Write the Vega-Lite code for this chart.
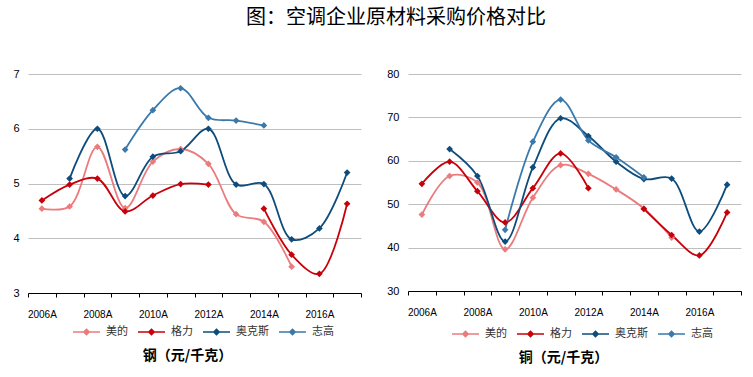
{
  "$schema": "https://vega.github.io/schema/vega-lite/v6.json",
  "background": "white",
  "padding": {"top": 8, "left": 12, "right": 4, "bottom": 0},
  "title": {"text": "图：空调企业原材料采购价格对比", "fontSize": 20, "fontWeight": "normal", "font": "Noto Sans CJK SC", "color": "#000000", "anchor": "middle", "offset": 40, "dx": 12},
  "config": {
    "font": "Liberation Sans, Noto Sans CJK SC",
    "view": {"stroke": null},
    "axisX": {"title": null, "grid": false, "domainColor": "#000000", "domainWidth": 1, "tickColor": "#000000", "tickSize": 4, "labelFontSize": 10, "labelColor": "#000000", "labelPadding": 12, "labelFlush": false, "labelOverlap": false},
    "axisY": {"title": null, "domain": false, "ticks": false, "grid": true, "gridColor": "#BFBFBF", "gridWidth": 1, "labelFontSize": 11, "labelColor": "#000000", "labelPadding": 9},
    "legend": {"orient": "none", "direction": "horizontal", "columns": 4, "columnPadding": 7, "labelFontSize": 11, "labelColor": "#333333", "labelFont": "Noto Sans CJK SC", "title": null, "symbolType": "M-1,0L1,0M0,-0.2L0.2,0L0,0.2L-0.2,0Z", "symbolSize": 729, "symbolStrokeWidth": 1.5, "labelOffset": 5}
  },
  "datasets": {
    "steel": [
      {"company": "美的", "year": 2006, "value": 4.54, "seg": "a"},
      {"company": "美的", "year": 2007, "value": 4.58, "seg": "a"},
      {"company": "美的", "year": 2008, "value": 5.67, "seg": "a"},
      {"company": "美的", "year": 2009, "value": 4.55, "seg": "a"},
      {"company": "美的", "year": 2010, "value": 5.40, "seg": "a"},
      {"company": "美的", "year": 2011, "value": 5.63, "seg": "a"},
      {"company": "美的", "year": 2012, "value": 5.36, "seg": "a"},
      {"company": "美的", "year": 2013, "value": 4.44, "seg": "a"},
      {"company": "美的", "year": 2014, "value": 4.30, "seg": "a"},
      {"company": "美的", "year": 2015, "value": 3.48, "seg": "a"},
      {"company": "格力", "year": 2006, "value": 4.69, "seg": "b1"},
      {"company": "格力", "year": 2007, "value": 4.98, "seg": "b1"},
      {"company": "格力", "year": 2008, "value": 5.09, "seg": "b1"},
      {"company": "格力", "year": 2009, "value": 4.49, "seg": "b1"},
      {"company": "格力", "year": 2010, "value": 4.78, "seg": "b1"},
      {"company": "格力", "year": 2011, "value": 4.99, "seg": "b1"},
      {"company": "格力", "year": 2012, "value": 4.98, "seg": "b1"},
      {"company": "格力", "year": 2014, "value": 4.54, "seg": "b2"},
      {"company": "格力", "year": 2015, "value": 3.70, "seg": "b2"},
      {"company": "格力", "year": 2016, "value": 3.35, "seg": "b2"},
      {"company": "格力", "year": 2017, "value": 4.63, "seg": "b2"},
      {"company": "奥克斯", "year": 2007, "value": 5.09, "seg": "c"},
      {"company": "奥克斯", "year": 2008, "value": 6.00, "seg": "c"},
      {"company": "奥克斯", "year": 2009, "value": 4.77, "seg": "c"},
      {"company": "奥克斯", "year": 2010, "value": 5.49, "seg": "c"},
      {"company": "奥克斯", "year": 2011, "value": 5.59, "seg": "c"},
      {"company": "奥克斯", "year": 2012, "value": 6.00, "seg": "c"},
      {"company": "奥克斯", "year": 2013, "value": 4.98, "seg": "c"},
      {"company": "奥克斯", "year": 2014, "value": 4.99, "seg": "c"},
      {"company": "奥克斯", "year": 2015, "value": 3.98, "seg": "c"},
      {"company": "奥克斯", "year": 2016, "value": 4.18, "seg": "c"},
      {"company": "奥克斯", "year": 2017, "value": 5.20, "seg": "c"},
      {"company": "志高", "year": 2009, "value": 5.62, "seg": "d"},
      {"company": "志高", "year": 2010, "value": 6.34, "seg": "d"},
      {"company": "志高", "year": 2011, "value": 6.74, "seg": "d"},
      {"company": "志高", "year": 2012, "value": 6.20, "seg": "d"},
      {"company": "志高", "year": 2013, "value": 6.15, "seg": "d"},
      {"company": "志高", "year": 2014, "value": 6.06, "seg": "d"}
    ],
    "copper": [
      {"company": "美的", "year": 2006, "value": 47.6, "seg": "a"},
      {"company": "美的", "year": 2007, "value": 56.5, "seg": "a"},
      {"company": "美的", "year": 2008, "value": 55.0, "seg": "a"},
      {"company": "美的", "year": 2009, "value": 39.6, "seg": "a"},
      {"company": "美的", "year": 2010, "value": 51.5, "seg": "a"},
      {"company": "美的", "year": 2011, "value": 59.0, "seg": "a"},
      {"company": "美的", "year": 2012, "value": 57.0, "seg": "a"},
      {"company": "美的", "year": 2013, "value": 53.4, "seg": "a"},
      {"company": "美的", "year": 2014, "value": 49.0, "seg": "a"},
      {"company": "美的", "year": 2015, "value": 42.3, "seg": "a"},
      {"company": "格力", "year": 2006, "value": 54.7, "seg": "b1"},
      {"company": "格力", "year": 2007, "value": 59.8, "seg": "b1"},
      {"company": "格力", "year": 2008, "value": 53.0, "seg": "b1"},
      {"company": "格力", "year": 2009, "value": 45.8, "seg": "b1"},
      {"company": "格力", "year": 2010, "value": 53.7, "seg": "b1"},
      {"company": "格力", "year": 2011, "value": 61.7, "seg": "b1"},
      {"company": "格力", "year": 2012, "value": 53.7, "seg": "b1"},
      {"company": "格力", "year": 2014, "value": 48.9, "seg": "b2"},
      {"company": "格力", "year": 2015, "value": 42.9, "seg": "b2"},
      {"company": "格力", "year": 2016, "value": 38.2, "seg": "b2"},
      {"company": "格力", "year": 2017, "value": 48.1, "seg": "b2"},
      {"company": "奥克斯", "year": 2007, "value": 62.7, "seg": "c"},
      {"company": "奥克斯", "year": 2008, "value": 56.5, "seg": "c"},
      {"company": "奥克斯", "year": 2009, "value": 41.4, "seg": "c"},
      {"company": "奥克斯", "year": 2010, "value": 58.5, "seg": "c"},
      {"company": "奥克斯", "year": 2011, "value": 69.8, "seg": "c"},
      {"company": "奥克斯", "year": 2012, "value": 65.7, "seg": "c"},
      {"company": "奥克斯", "year": 2013, "value": 59.8, "seg": "c"},
      {"company": "奥克斯", "year": 2014, "value": 55.8, "seg": "c"},
      {"company": "奥克斯", "year": 2015, "value": 55.9, "seg": "c"},
      {"company": "奥克斯", "year": 2016, "value": 43.7, "seg": "c"},
      {"company": "奥克斯", "year": 2017, "value": 54.5, "seg": "c"},
      {"company": "志高", "year": 2009, "value": 44.1, "seg": "d"},
      {"company": "志高", "year": 2010, "value": 64.4, "seg": "d"},
      {"company": "志高", "year": 2011, "value": 74.1, "seg": "d"},
      {"company": "志高", "year": 2012, "value": 64.7, "seg": "d"},
      {"company": "志高", "year": 2013, "value": 60.8, "seg": "d"},
      {"company": "志高", "year": 2014, "value": 56.2, "seg": "d"}
    ]
  },
  "spacing": 11,
  "resolve": {"legend": {"color": "independent"}},
  "hconcat": [
    {
      "width": 333, "height": 219,
      "data": {"name": "steel"},
      "title": {"text": "钢（元/千克）", "orient": "bottom", "fontSize": 14, "fontWeight": "bold", "font": "Noto Sans CJK SC", "color": "#000000", "anchor": "middle", "offset": 11, "dx": -7},
      "encoding": {
        "x": {"field": "year", "type": "quantitative", "scale": {"domain": [2005.5, 2017.5], "nice": false, "zero": false},
              "axis": {"values": [2005.5, 2006.5, 2007.5, 2008.5, 2009.5, 2010.5, 2011.5, 2012.5, 2013.5, 2014.5, 2015.5, 2016.5, 2017.5], "labelExpr": "((datum.value - 2005.5) % 2 == 0 && datum.value < 2017) ? (datum.value + 0.5) + 'A' : ''", "labelOffset": 13.875}},
        "y": {"field": "value", "type": "quantitative", "scale": {"domain": [3, 7], "nice": false, "zero": false}, "axis": {"values": [3, 4, 5, 6, 7]}},
        "color": {"field": "company", "type": "nominal", "scale": {"domain": ["美的", "格力", "奥克斯", "志高"], "range": ["#EB7B7D", "#C8000A", "#0D4C7C", "#3C79AB"]}, "legend": {"legendX": 44, "legendY": 243}}
      },
      "layer": [
        {"mark": {"type": "line", "interpolate": "catmull-rom", "strokeWidth": 1.8}, "encoding": {"detail": {"field": "seg"}}},
        {"mark": {"type": "point", "shape": "diamond", "filled": true, "size": 45, "opacity": 1}}
      ]
    },
    {
      "width": 333, "height": 217,
      "data": {"name": "copper"},
      "title": {"text": "铜（元/千克）", "orient": "bottom", "fontSize": 14, "fontWeight": "bold", "font": "Noto Sans CJK SC", "color": "#000000", "anchor": "middle", "offset": 11, "dx": -11},
      "encoding": {
        "x": {"field": "year", "type": "quantitative", "scale": {"domain": [2005.5, 2017.5], "nice": false, "zero": false},
              "axis": {"values": [2005.5, 2006.5, 2007.5, 2008.5, 2009.5, 2010.5, 2011.5, 2012.5, 2013.5, 2014.5, 2015.5, 2016.5, 2017.5], "labelExpr": "((datum.value - 2005.5) % 2 == 0 && datum.value < 2017) ? (datum.value + 0.5) + 'A' : ''", "labelOffset": 13.875}},
        "y": {"field": "value", "type": "quantitative", "scale": {"domain": [30, 80], "nice": false, "zero": false}, "axis": {"values": [30, 40, 50, 60, 70, 80]}},
        "color": {"field": "company", "type": "nominal", "scale": {"domain": ["美的", "格力", "奥克斯", "志高"], "range": ["#EB7B7D", "#C8000A", "#0D4C7C", "#3C79AB"]}, "legend": {"legendX": 43, "legendY": 245}}
      },
      "layer": [
        {"mark": {"type": "line", "interpolate": "catmull-rom", "strokeWidth": 1.8}, "encoding": {"detail": {"field": "seg"}}},
        {"mark": {"type": "point", "shape": "diamond", "filled": true, "size": 45, "opacity": 1}}
      ]
    }
  ]
}
